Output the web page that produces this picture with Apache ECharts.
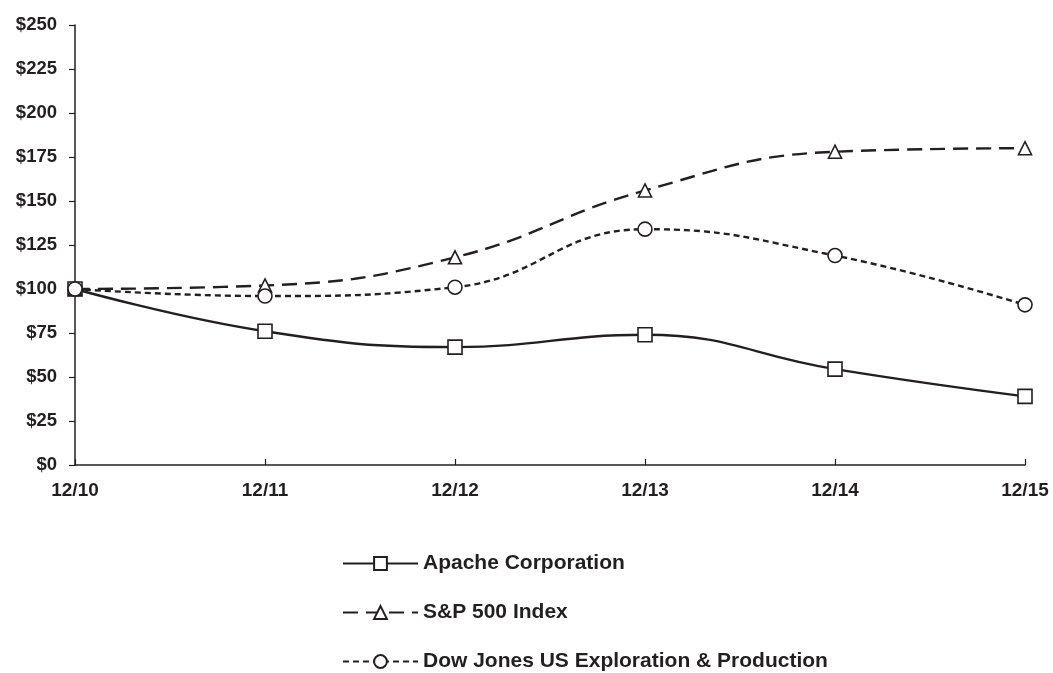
<!DOCTYPE html>
<html>
<head>
<meta charset="utf-8">
<script src="https://cdn.jsdelivr.net/npm/echarts@6/dist/echarts.min.js"></script>
<style>
  html, body { margin: 0; padding: 0; background: #fff; }
  #chart { width: 1053px; height: 673px; }
</style>
</head>
<body>
<div id="chart"></div>
<script>
// Years on the x axis
var years = ['12/10', '12/11', '12/12', '12/13', '12/14', '12/15'];

// Cumulative return values ($100 invested)
var apache = [100, 76, 67, 74, 54.5, 39];
var sp500 = [100, 102, 118, 156, 178, 180];
var dowJones = [100, 96, 101, 134, 119, 91];

var FONT = '"Liberation Sans", Arial, sans-serif';
var INK = '#231f20';

function makeSeries(name, data, symbol, dash) {
    return {
        name: name,
        type: 'line',
        data: data,
        smooth: 0.45,
        symbol: symbol,
        symbolSize: symbol === 'triangle' ? 13 : 14,
        showAllSymbol: true,
        lineStyle: { color: INK, width: 2.4, type: dash },
        itemStyle: { color: '#fff', borderColor: INK, borderWidth: 1.6 },
        emphasis: { disabled: true }
    };
}

var chart = echarts.init(document.getElementById('chart'));

chart.setOption({
    animation: false,
    textStyle: { fontFamily: FONT },
    grid: { left: 75, right: 28, top: 25, bottom: 208 },
    xAxis: {
        type: 'category',
        data: years,
        boundaryGap: false,
        axisLine: { lineStyle: { color: INK, width: 1.5 } },
        axisTick: { inside: true, length: 6, lineStyle: { color: INK, width: 1.2 } },
        axisLabel: { color: INK, fontSize: 19, fontWeight: 'bold', margin: 16, fontFamily: FONT }
    },
    yAxis: {
        type: 'value',
        min: 0,
        max: 250,
        interval: 25,
        splitLine: { show: false },
        axisLine: { show: true, lineStyle: { color: INK, width: 1.5 } },
        axisTick: { show: true, length: 6, lineStyle: { color: INK, width: 1.2 } },
        axisLabel: {
            color: INK, fontSize: 18.5, fontWeight: 'bold', margin: 18, fontFamily: FONT,
            formatter: function (v) { return '$' + v; }
        }
    },
    legend: {
        orient: 'vertical',
        left: 342,
        top: 553,
        height: 200,
        padding: 0,
        itemWidth: 75,
        itemHeight: 16,
        itemGap: 28,
        textStyle: { color: INK, fontSize: 21, fontWeight: 'bold', fontFamily: FONT },
        data: ['Apache Corporation', 'S&P 500 Index', 'Dow Jones US Exploration & Production']
    },
    series: [
        makeSeries('Apache Corporation', apache, 'rect', 'solid'),
        makeSeries('S&P 500 Index', sp500, 'triangle', [15, 8]),
        makeSeries('Dow Jones US Exploration & Production', dowJones, 'circle', [6, 4])
    ]
});
</script>
</body>
</html>
